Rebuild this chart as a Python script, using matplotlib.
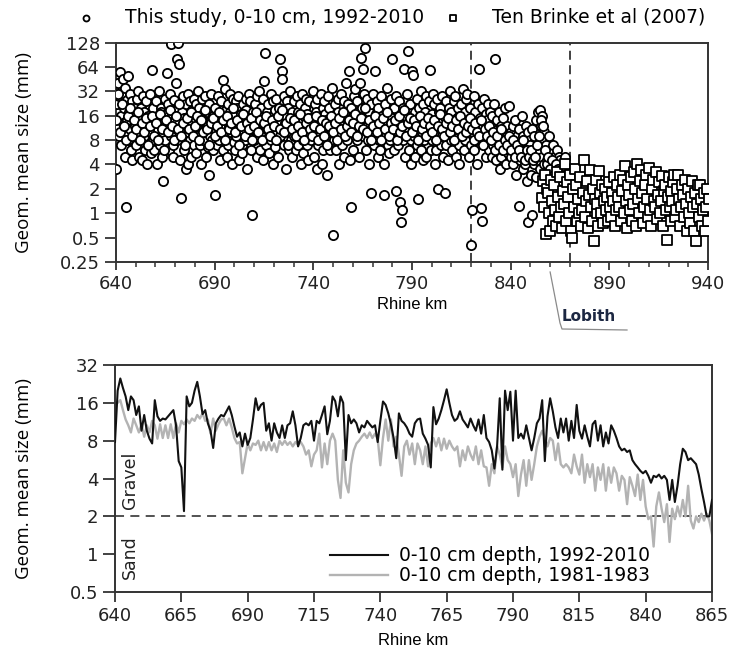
import numpy as np
import matplotlib
matplotlib.use("Agg")
import matplotlib.pyplot as plt
from matplotlib.lines import Line2D

plt.rcParams['font.family'] = ['DejaVu Sans']

# ---- top panel: geometric mean size of surface samples ----
# circles: this study, 0-10 cm, 1992-2010 (three samples per km, from km 640)
circle_vals = [
    3.5, 22, 12, 40, 9, 28, 55, 16, 7, 30, 13, 45, 20, 5, 35, 1.2, 14, 25, 8, 50, 18, 11, 30, 6, 24, 4.5, 15, 9, 20, 12,
    16, 7, 26, 10, 32, 5, 14, 8, 20, 4.5, 12, 28, 18, 9, 6, 24, 13, 4, 7, 16, 11, 30, 10, 5.5, 58, 14, 8, 20, 6, 12,
    9, 24, 15, 4, 11, 32, 13, 7, 20, 18, 5, 10, 2.5, 14, 26, 8, 17, 11, 54, 22, 6, 12, 30, 9, 121, 16, 5, 7, 25, 13,
    14, 40, 8, 79, 127, 20, 69, 11, 4.5, 1.55, 18, 10, 28, 6, 15, 9, 22, 3.5, 12, 4, 30, 16, 8, 24, 5, 13, 19, 10, 26, 7,
    15, 5.5, 22, 9, 32, 12, 20, 7, 14, 4, 11, 26, 17, 8, 13, 28, 10, 5, 12, 18, 6.5, 22, 3, 9, 14, 30, 8, 6, 16, 11,
    1.7, 20, 10, 13, 7, 28, 8, 17, 4.5, 24, 11, 15, 44, 6, 12, 9, 34, 19, 14, 5, 22, 7, 12, 30, 18, 10, 4, 11, 26, 7.5,
    16, 6, 24, 9, 20, 13, 28, 4.5, 11, 12, 17, 7, 5.5, 22, 10, 14, 8, 26, 19, 3.5, 12, 9, 30, 15, 24, 6, 11, 0.96, 13, 18,
    8, 22, 14, 12, 5, 28, 17, 9, 32, 6, 13, 20, 10, 26, 4.5, 43, 96, 15, 7, 18, 11, 22, 9, 5.5, 13, 30, 8, 16, 4, 24,
    10, 19, 6.5, 26, 12, 8, 14, 5, 20, 81, 9, 17, 57, 45, 11, 28, 7, 13, 3.5, 16, 24, 10, 20, 6, 12, 32, 8, 18, 5, 14,
    9, 24, 11, 15, 6, 28, 7, 18, 12, 22, 10, 4, 13, 30, 8, 5.5, 16, 20, 11, 26, 7, 17, 4.5, 13, 24, 9, 15, 8, 12, 32,
    14, 5, 22, 10, 18, 3.5, 26, 7, 12, 9, 16, 30, 13, 4, 20, 6, 24, 11, 17, 8, 14, 3, 12, 28, 20, 10, 6, 11, 35, 15,
    0.54, 14, 8, 22, 6, 12, 9, 18, 26, 4, 13, 10, 30, 7, 16, 12, 24, 5, 18, 9, 40, 8, 14, 22, 57, 11, 4.5, 1.2, 20, 13,
    16, 6, 28, 10, 34, 12, 24, 8, 18, 14, 5, 40, 83, 11, 20, 60, 9, 30, 110, 15, 6, 12, 26, 8, 18, 4, 14, 1.8, 22, 10,
    30, 13, 7, 57, 9, 17, 11, 24, 5, 20, 8, 14, 6, 28, 12, 16, 10, 4, 1.7, 22, 9, 13, 35, 7, 18, 5.5, 11, 8, 26, 15,
    81, 12, 6, 20, 9, 28, 1.9, 14, 10, 7, 24, 16, 1.37, 12, 0.78, 1.11, 20, 8, 60, 11, 5, 16, 30, 9, 100, 13, 6, 22, 8, 4,
    57, 51, 12, 9, 18, 5, 14, 26, 7, 1.5, 11, 20, 16, 6, 32, 10, 22, 4.5, 13, 8, 18, 28, 5, 11, 9, 15, 24, 58, 12, 6,
    17, 8, 30, 11, 22, 4, 14, 6, 26, 2.0, 10, 18, 20, 13, 7, 9, 28, 5, 12, 16, 1.78, 24, 7, 11, 15, 4.5, 20, 10, 32, 8,
    18, 6, 13, 9, 24, 11, 28, 5, 15, 12, 20, 7, 4, 16, 10, 22, 9, 34, 14, 6, 18, 8, 26, 12, 30, 11, 5, 13, 20, 7,
    0.41, 1.11, 16, 10, 28, 6, 18, 8, 13, 4, 22, 11, 61, 9, 15, 1.17, 0.8, 20, 12, 7, 26, 9, 17, 5, 14, 22, 8, 6, 11, 18,
    10, 16, 5, 7, 22, 12, 81, 9, 4.5, 14, 6, 11, 8, 18, 3.5, 12, 5, 9, 6, 15, 10, 20, 7, 4, 9, 12, 5.5, 21, 6, 8,
    5, 10, 7, 12, 4, 8, 6, 14, 3, 9, 5, 7, 1.24, 11, 4.5, 7, 6, 16, 3.5, 9, 5, 8, 4, 12, 6, 2.5, 10, 0.78, 5, 8,
    7, 3, 11, 0.96, 6, 4, 9, 5, 2.8, 14, 4.5, 7, 18, 6, 3.5, 19, 12, 5, 16, 8, 4, 10, 3, 6, 7, 4.5, 2.5, 5, 9, 3.5,
    6, 2.5, 4, 3, 7, 4.5, 5, 2, 3.5, 4, 2.8, 6, 3, 5, 2.2, 4.5, 1.8, 3.5, 2.5, 4, 3, 3.5, 2, 5, 2.8, 3.5, 1.8,
]
circle_start = 640
circle_per_km = 3

# more samples of the same survey, filling the dense core (one per km, from km 640)
core_vals = [
    14, 30, 10, 22, 12, 8, 16, 20, 9, 14, 11, 18, 8, 13, 10, 15, 7, 12, 16, 9,
    13, 8, 17, 11, 6, 14, 10, 19, 12, 8, 16, 11, 22, 9, 13, 7, 15, 11, 18, 9,
    12, 16, 8, 14, 10, 19, 11, 7, 13, 15, 9, 12, 18, 10, 14, 8, 16, 11, 13, 20,
    10, 14, 7, 12, 17, 9, 13, 11, 15, 8, 12, 18, 10, 14, 8, 13, 16, 11, 9, 14,
    12, 8, 16, 11, 19, 10, 13, 7, 15, 11, 14, 9, 12, 17, 10, 8, 13, 15, 11, 9,
    12, 16, 8, 11, 14, 9, 13, 7, 12, 16, 10, 13, 8, 15, 11, 18, 9, 12, 14, 10,
    13, 17, 9, 12, 15, 11, 20, 10, 14, 8, 12, 16, 10, 13, 8, 15, 11, 18, 9, 13,
    11, 14, 8, 16, 10, 12, 19, 9, 13, 15, 10, 14, 12, 8, 16, 11, 13, 9, 15, 12,
    10, 14, 8, 12, 17, 11, 9, 13, 15, 10, 12, 8, 14, 11, 16, 9, 13, 10, 12, 15,
    11, 8, 13, 10, 9, 14, 7, 11, 9, 12, 8, 10, 6, 9, 7, 11, 6, 8, 7, 9,
    6, 8, 5, 7, 6, 5, 8, 4.5, 6, 5, 6, 4.5, 5, 7, 9, 14, 12, 6, 4, 5,
    3.5, 4.5, 3, 4, 3.5, 2.8, 3.5, 3,
]
core_start = 640.17

# squares: Ten Brinke et al (2007) (two samples per km, from km 856)
square_vals = [
    1.55, 2.5, 1.2, 3, 0.55, 2, 1.8, 1, 0.6, 2.6, 1.4, 0.8, 2.2, 1.1, 0.7, 3.2, 1.6, 0.9, 2.8, 1.2,
    0.65, 1.9, 1.3, 4, 0.8, 2.4, 1.6, 1, 3, 0.6, 0.5, 2, 1.2, 3.5, 2.2, 0.8, 1.5, 1, 2.8, 0.7,
    1.1, 1.8, 4.6, 0.9, 1.4, 2.5, 0.65, 1.7, 3.4, 1.2, 0.8, 2, 0.46, 1.5, 2.6, 1, 1.3, 0.7, 3.3, 1.8,
    1, 2.2, 0.75, 1.4, 2, 1.1, 1.6, 0.8, 2.4, 1.2, 0.9, 1.8, 1.4, 2.8, 0.7, 1.1, 2.2, 1.6, 1.2, 3,
    0.8, 1.9, 2.6, 1, 3.8, 1.4, 0.65, 2.2, 1.7, 1.1, 2.8, 0.8, 1.3, 3.2, 2, 0.7, 4, 1.5, 1, 2.5,
    3.4, 1.8, 0.75, 1.2, 2.2, 3, 1.5, 0.9, 3.6, 1.1, 0.7, 2, 2.6, 1.4, 1.2, 3.2, 0.85, 1.7, 2.4, 1,
    1.4, 2.9, 0.7, 1.9, 2.2, 1.1, 0.47, 1.6, 2.8, 1.2, 0.8, 1.9, 1.4, 2.4, 3, 0.9, 1.1, 2, 3, 1.5,
    0.7, 1.2, 2.2, 1.7, 0.9, 2.6, 1.3, 0.6, 2, 1, 0.75, 1.6, 2.5, 1.2, 0.6, 1.8, 0.46, 1.3, 2.2, 0.9,
    2.25, 1.5, 0.7, 1.1, 1.8, 0.6, 1.2, 2, 0.8, 1.5,
]
square_start = 856
square_per_km = 2

# ---- bottom panel: 0-10 cm depth profiles, one value per km from km 640 ----
recent_vals = [
    7.8, 20, 25, 21, 18, 14, 18, 16.8, 12.8, 15, 9.6, 12.8, 9.6, 8.3, 7.6, 16.8, 12.5, 11.5, 12, 11.8,
    12.5, 13.2, 14, 10.6, 5.5, 4.9, 2.2, 18, 15, 16, 20, 23.5, 18, 13, 14, 11, 9.6, 7, 11, 12,
    12.8, 12.5, 13.7, 15, 12.8, 10.4, 8.6, 9.3, 7.2, 9.1, 7.4, 8.4, 11.8, 17.4, 14, 15.4, 16,
    9.6, 11, 8, 11, 9.3, 8.4, 10.6, 8.4, 10.6, 11, 13.7, 10.6, 7.2, 8.4, 10.6, 11, 10.6, 11.5, 8, 11.5,
    11, 12.8, 15, 9, 11.5, 18, 16.5, 12.5, 18, 16, 5.6, 12.8, 11, 11.8, 11, 9.3, 10.6, 10.2, 11.5, 10.8,
    10.2, 10.6, 7.8, 11.5, 16.4, 15.4, 13.2, 10.8, 8.4,
    5.8, 13.2, 11.5, 11, 10.2, 9.1, 8.6, 11, 11.8, 12, 9.1, 8.3, 7.4, 4.9, 14.8, 10.8, 12, 14, 16.8, 20.5,
    16, 12.8, 11.5, 12, 13.7,
    11.8, 11, 10.2, 12, 10.6, 9.6, 11.8, 9.1, 12.8, 8.4, 7.8, 6.7, 4.8, 7.2, 17.4, 4.7, 20, 14, 19.6, 8,
    20, 8.4, 9.1, 8.3, 10.6, 8.4, 6.7, 8.4, 11,
    12, 16.8, 5.5, 12.5, 17.4, 13.7, 10.2, 8.4, 12, 9.3, 12, 8, 11.5, 8.4, 15.4, 9.6, 8.3, 10.6, 8.6, 7.2,
    10.8, 11.5, 8, 10.6, 7.2, 9.3, 7.6, 10.6, 9.6,
    8.4, 7.2, 6.7, 6.9, 6.5, 6.7, 5.6, 5.2, 4.9, 4.6, 4.4, 4.6, 4.2, 3.7, 4.2, 4.1, 4.3, 4, 4.2, 3.9,
    2.7, 3.9, 2.6, 3.5, 5.2, 6.9, 6.5, 5.6, 5.8, 5.5, 5.2, 4.3, 3.3, 2.6, 2.0, 2.0, 2.7,
]
old_vals = [
    16, 16, 16.8, 14, 11.8, 10.6, 9.3, 12, 10.6, 9.3, 10.8, 8.6, 10.6, 9.3,
    11.5, 10.6, 8.3, 10.8, 8.4, 10.6, 8.4, 10.8, 8.4, 11, 9.3, 11.5, 10.8, 11.8, 11, 12,
    11.5, 12.8, 12, 13.2, 11.5, 11.8, 9.1, 12, 9.6, 10.8, 11.8, 12, 10.6, 12, 10.2, 8.4, 7.6, 7.8, 4.4, 5.8,
    7.6, 6.7, 7.6, 7.4, 8, 6.7, 7.8, 6.7, 7.8, 6.7, 7.6, 6.5, 8, 7.4, 8, 7.4, 7.8, 7.2, 7.8, 7.4,
    7.8, 7.2, 6.2, 6.7, 5, 6.2, 6.7,
    9.1, 4.9, 7.6, 5.2, 8, 9.1, 8, 3.9, 2.8, 6.7, 3.7, 3.1, 5.2, 6.7, 7.6, 8, 8.6, 9.1, 8.4, 9.3,
    8.4, 9.1, 8.3, 5.1, 8.4, 11.8, 8, 11.8, 7.2, 8.6, 6.2, 4.2, 7.2, 8, 6.2, 7.6, 5.2, 7.6, 6.7, 5.2,
    7.2, 5, 7.6, 8.4, 7.2, 8.4, 6.7, 8.3, 6.9, 8, 7.2, 6.7, 7.2, 5, 6.7, 5.6, 7.2, 6.2, 5.6, 7.2,
    5.2, 6.7, 5, 4.9, 3.5, 5.2, 4.4, 7.2, 6.2, 4.9, 7.2, 5.6,
    5.2, 4.1, 5.2, 2.9, 4.3, 5.6, 3.5, 5.6, 3.9, 5.2, 7.2, 8.6, 9.6, 8.4, 7.2, 8.4, 8, 5.6, 7.6, 5.2,
    4.9, 5.2, 4.9, 4.4, 6.2, 5, 4.3, 6.2, 3.7, 5.2, 4.1, 5.2, 3.2, 4.9, 3.9, 5.2, 3.2, 4.9, 3.7, 4.9,
    4.4, 3.2, 4.2, 3.9, 2.5, 4.1, 3.5, 2.9, 4.3, 2.7, 3.9, 2.4, 1.9, 2, 1.15, 2.4, 3.1, 2.3, 1.8, 2.5,
    1.25, 2.3, 1.9, 2.4, 2, 2.7, 2, 3.5, 1.85, 1.6, 2, 1.8, 2.1, 1.85, 2.1, 1.85, 1.45,
]
profile_start = 640

top_yticks = [0.25, 0.5, 1, 2, 4, 8, 16, 32, 64, 128]
bottom_yticks = [0.5, 1, 2, 4, 8, 16, 32]
top_xticks = [640, 690, 740, 790, 840, 890, 940]
bottom_xticks = [640, 665, 690, 715, 740, 765, 790, 815, 840, 865]
marker_lines = [820, 870]   # dashed reference lines in the top panel
lobith_km = 860
sand_gravel = 2

circle_km = circle_start + np.arange(len(circle_vals)) / circle_per_km
core_km = core_start + np.arange(len(core_vals))
square_km = square_start + np.arange(len(square_vals)) / square_per_km
km_recent = profile_start + np.arange(len(recent_vals))
km_old = profile_start + np.arange(len(old_vals))

W, H = 729, 654
fig = plt.figure(figsize=(W / 100, H / 100), dpi=100)
spine_c = '#333333'


def style_axes(ax):
    for s in ax.spines.values():
        s.set_color(spine_c)
        s.set_linewidth(1.4)
    ax.tick_params(which='both', direction='out', color=spine_c, width=1.3,
                   labelsize=13, labelcolor='#222222')
    ax.set_yscale('log', base=2)
    ax.yaxis.set_minor_locator(plt.NullLocator())


# ---------------- top panel ----------------
ax1 = fig.add_axes([116 / W, 1 - 262 / H, 592 / W, 219.5 / H])
style_axes(ax1)
pt_style = dict(facecolors='white', edgecolors='black', linewidths=1.3, zorder=3)
ax1.scatter(circle_km, circle_vals, s=44, marker='o',
            label='This study, 0-10 cm, 1992-2010', **pt_style)
ax1.scatter(core_km, core_vals, s=44, marker='o', **pt_style)
ax1.scatter(square_km, square_vals, s=44, marker='s',
            label='Ten Brinke et al (2007)', **pt_style)
for k in marker_lines:
    ax1.axvline(k, color='#333333', lw=1.3, ls=(0, (5, 3)), zorder=2)
ax1.set_xlim(640, 940)
ax1.set_ylim(0.25, 128)
ax1.set_yticks(top_yticks)
ax1.set_yticklabels([f'{v:g}' for v in top_yticks])
ax1.set_xticks(top_xticks)
ax1.set_xticks(np.arange(640, 941, 10), minor=True)
ax1.tick_params(axis='y', length=8)
ax1.tick_params(axis='x', which='major', length=6)
ax1.tick_params(axis='x', which='minor', length=3.5, width=1.1)
ax1.set_ylabel('Geom. mean size (mm)', family='Open Sans', fontsize=13.5)
ax1.yaxis.set_label_coords(-0.140, 0.5)
ax1.set_xlabel('Rhine km', fontsize=12, family='Liberation Sans')
ax1.xaxis.set_label_coords(0.5, -0.160)
ax1.legend(loc='center left', bbox_to_anchor=(-0.079, 1.116), ncol=2,
           frameon=False, fontsize=13.5, handlelength=1.0, handletextpad=1.6,
           columnspacing=1.0, borderaxespad=0.0, markerscale=0.65)

# Lobith callout below the axis
x0 = ax1.transData.transform((lobith_km, 1))[0] / W
fig.add_artist(Line2D([x0, 560 / W, 562 / W, 627 / W],
                      [1 - 272 / H, 1 - 323 / H, 1 - 329 / H, 1 - 330 / H],
                      color='#8a8a8a', lw=0.9))
fig.text(562 / W, 1 - 316 / H, 'Lobith', fontsize=11, fontweight='bold',
         color='#1c2742', va='center', ha='left')

# ---------------- bottom panel ----------------
ax2 = fig.add_axes([115 / W, 1 - 592 / H, 597 / W, 227 / H])
style_axes(ax2)
ax2.plot(km_old, old_vals, color='#b3b3b3', lw=1.7, zorder=2,
         label='0-10 cm depth, 1981-1983')
ax2.plot(km_recent, recent_vals, color='#111111', lw=1.5, zorder=3,
         label='0-10 cm depth, 1992-2010')
ax2.axhline(sand_gravel, color='#444444', lw=1.3, ls=(0, (5, 3.5)), zorder=1)
ax2.set_xlim(640, 865)
ax2.set_ylim(0.5, 32)
ax2.set_yticks(bottom_yticks)
ax2.set_yticklabels([f'{v:g}' for v in bottom_yticks])
ax2.set_xticks(bottom_xticks)
ax2.tick_params(axis='y', length=8.5)
ax2.tick_params(axis='x', length=7)
ax2.set_ylabel('Geom. mean size (mm)', family='Open Sans', fontsize=13.5)
ax2.yaxis.set_label_coords(-0.137, 0.5)
ax2.set_xlabel('Rhine km', fontsize=12, family='Liberation Sans')
ax2.xaxis.set_label_coords(0.5, -0.181)
ax2.text(0.025, 3.9, 'Gravel', rotation=90, fontsize=12.5, ha='center',
         va='center', transform=ax2.get_yaxis_transform(), color='#222222')
ax2.text(0.025, 0.95, 'Sand', rotation=90, fontsize=12.5, ha='center',
         va='center', transform=ax2.get_yaxis_transform(), color='#222222')
handles, labels = ax2.get_legend_handles_labels()
ax2.legend(handles[::-1], labels[::-1], loc='center left',
           bbox_to_anchor=(0.348, 0.115), frameon=False, fontsize=13.5,
           handlelength=3.1, handletextpad=0.55, labelspacing=0.05,
           borderaxespad=0.0)

fig.savefig('out.png', dpi=100)
